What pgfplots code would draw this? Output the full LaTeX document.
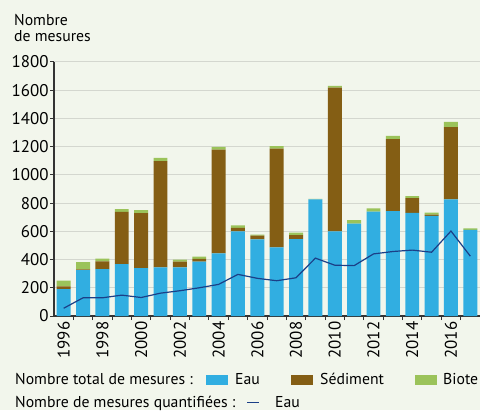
\documentclass[border=0pt]{standalone}
\usepackage{fontspec}
\setmainfont{PT Sans}
\usepackage{pgfplots}
\usepackage{pgfplotstable}
\pgfplotsset{compat=1.18}
\definecolor{bg}{HTML}{F2F6EC}
\definecolor{eau}{HTML}{31AEE1}
\definecolor{sed}{HTML}{845E14}
\definecolor{biote}{HTML}{9BC35A}
\definecolor{qline}{HTML}{1B3F87}
\definecolor{gridc}{HTML}{D4D7CF}
\definecolor{axc}{HTML}{333333}

\pgfplotstableread{
year eau sed biote q
1996 190 20 40 55
1997 326 5 50 129
1998 333 55 19 129
1999 367 371 19 148
2000 340 389 21 131
2001 345 752 23 162
2002 345 41 14 179
2003 386 19 16 200
2004 443 736 19 224
2005 600 24 19 295
2006 543 26 8 267
2007 486 700 17 250
2008 545 29 16 271
2009 826 0 4 410
2010 600 1019 12 360
2011 655 0 24 357
2012 740 0 22 440
2013 743 510 23 457
2014 731 105 14 467
2015 710 9 14 452
2016 826 512 37 602
2017 610 0 11 424
}\data

\begin{document}
\begin{tikzpicture}[x=1bp,y=1bp]
\fill[bg] (0,0) rectangle (480,410);
\useasboundingbox (0,0) rectangle (480,410);
\pgfplotsset{common/.style={scale only axis, width=426bp, height=254bp,
  xmin=1995.5, xmax=2017.5, ymin=0, ymax=1800, at={(54bp,94bp)}, anchor=south west}}
\begin{axis}[common, ybar stacked, bar width=0.72,
  axis lines*=left, axis line style={-, axc, line width=1.3bp},
  ytick={0,200,...,1800}, ymajorgrids, grid style={gridc, line width=1bp},
  tick align=outside, major tick length=4bp, minor tick length=4bp,
  ytick style={axc, line width=1bp},
  xtick={1996,1998,...,2016}, major x tick style={draw=none},
  minor xtick={1996.5,1997.5,...,2017.5}, minor x tick style={axc, line width=1bp},
  /pgf/number format/assume math mode=true,
  /pgf/number format/1000 sep={},
  yticklabel style={font=\fontsize{17}{19}\selectfont, inner sep=1.2bp},
  xticklabel style={font=\fontsize{17}{19}\selectfont, rotate=90, anchor=east, inner sep=1.5bp},
  xtick pos=bottom, ytick pos=left,
]
\addplot[fill=eau, draw=none] table[x=year, y=eau]{\data};
\addplot[fill=sed, draw=none] table[x=year, y=sed]{\data};
\addplot[fill=biote, draw=none] table[x=year, y=biote]{\data};
\end{axis}
\begin{axis}[common, hide axis]
\addplot[qline, line width=1.2bp, mark=none] table[x=year, y=q]{\data};
\end{axis}
\begin{scope}[every node/.style={anchor=base west, inner sep=0, font=\fontsize{15.8}{18}\selectfont}]
\node at (14,385) {Nombre};
\node at (14,368.3) {de mesures};
\node at (15,26) {Nombre total de mesures :};
\fill[eau] (206,25) rectangle (228,35);
\node at (235,26) {Eau};
\fill[sed] (291,25) rectangle (313,35);
\node at (320,26) {Sédiment};
\fill[biote] (415,25) rectangle (437,35);
\node at (443,26) {Biote};
\node at (15,3) {Nombre de mesures quantifiées :};
\draw[qline, line width=1.5bp] (247,7.5) -- (259,7.5);
\node at (275,3) {Eau};
\end{scope}
\end{tikzpicture}
\end{document}
